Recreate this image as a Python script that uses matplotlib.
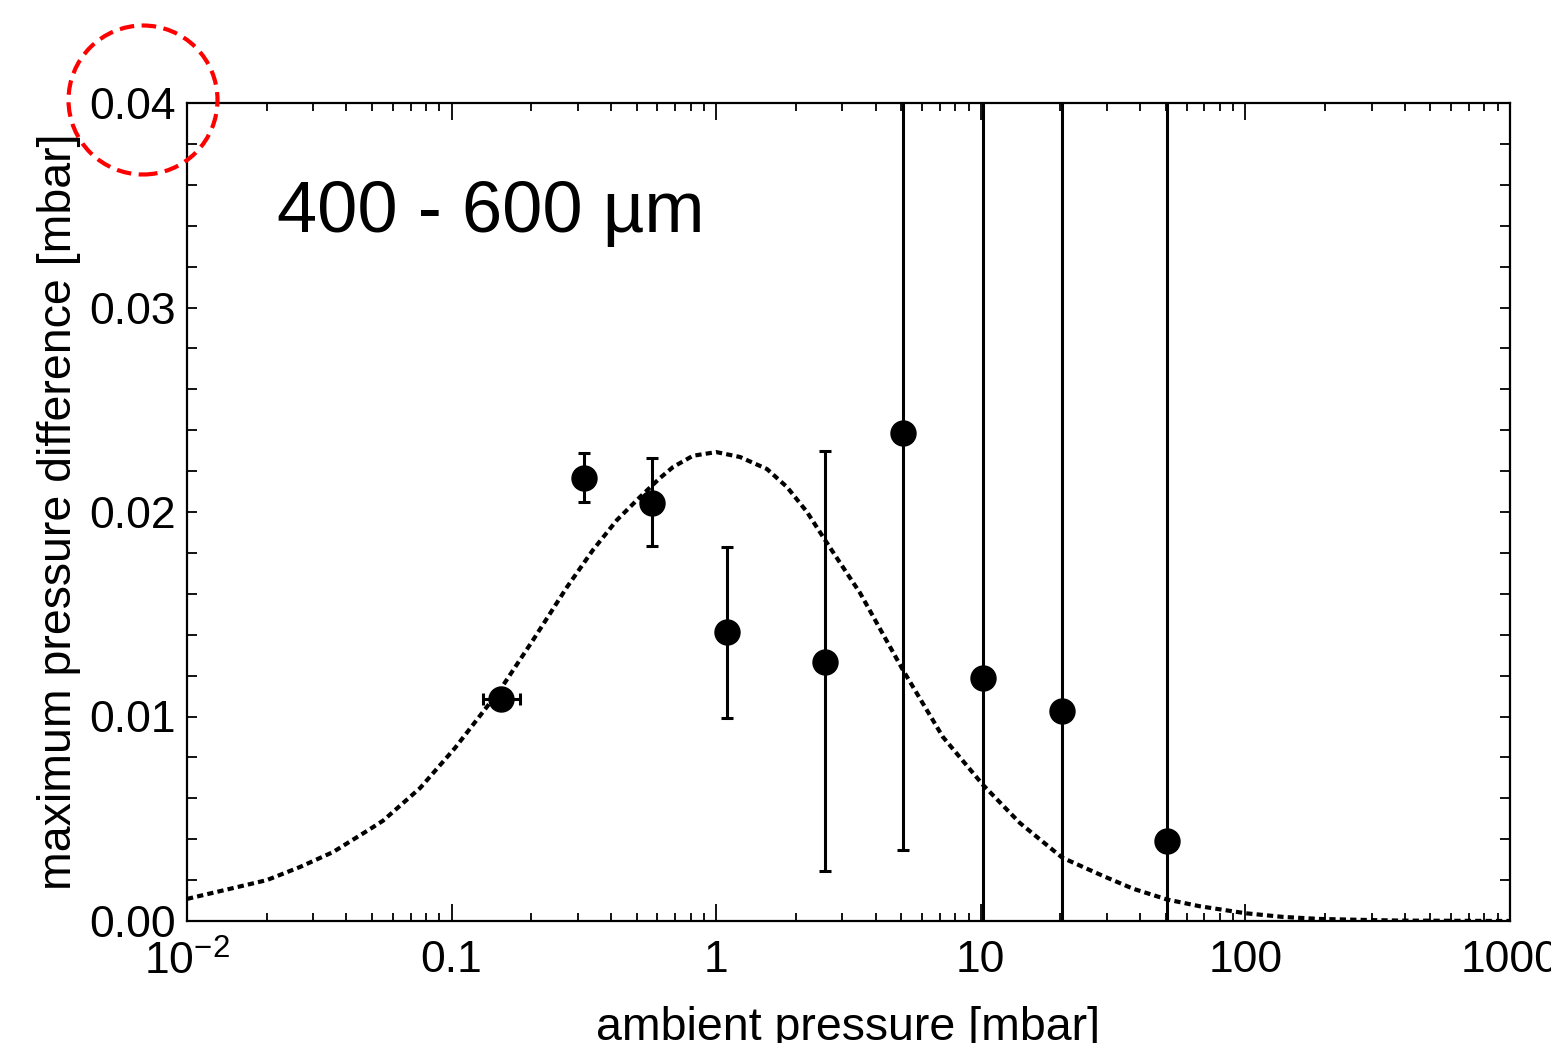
import numpy as np
import matplotlib.pyplot as plt
from matplotlib.patches import Ellipse

plt.rcParams['font.family'] = ['Liberation Sans', 'DejaVu Sans']
plt.rcParams['mathtext.fontset'] = 'custom'
plt.rcParams['mathtext.rm'] = 'Liberation Sans'
plt.rcParams['mathtext.it'] = 'Liberation Sans:italic'

# measured points
pressure = [0.154, 0.3165, 0.572, 1.098, 2.578, 5.08, 10.19, 20.27, 50.5]
dp_max = [0.01086, 0.02166, 0.02044, 0.01413, 0.01267, 0.02386, 0.01188, 0.01027, 0.00391]
err_low = [0.0004, 0.00117, 0.0021, 0.0042, 0.01023, 0.02039, 0.05, 0.05, 0.05]
err_high = [0.0004, 0.00123, 0.0022, 0.00416, 0.01031, 0.04, 0.05, 0.05, 0.05]
xerr_low = [0.023, 0, 0, 0, 0, 0, 0, 0, 0]
xerr_high = [0.027, 0, 0, 0, 0, 0, 0, 0, 0]

# model curve
curve_x = [0.01, 0.01493, 0.02004, 0.02672, 0.03563, 0.04786, 0.055, 0.076, 0.103,
           0.1524, 0.2032, 0.273, 0.342, 0.4217, 0.515, 0.613, 0.687, 0.817, 1.0,
           1.23, 1.556, 1.852, 2.204, 2.578, 3.01, 3.497, 5.08, 7.19, 10.2, 14.06,
           20.3, 29.0, 37.6, 50.6, 67.3, 100, 138.6, 191, 288, 384, 1000]
curve_y = [0.00108, 0.00161, 0.0020, 0.00264, 0.00337, 0.0044, 0.0049, 0.0065, 0.00846,
           0.0113, 0.01374, 0.01633, 0.01814, 0.01961, 0.02073, 0.02166, 0.0222, 0.02275, 0.02293,
           0.02269, 0.0221, 0.02122, 0.0200, 0.01863, 0.01731, 0.01604, 0.01227, 0.009, 0.00665, 0.00479,
           0.0031, 0.0022, 0.00158, 0.00105, 0.00072, 0.00038, 0.0002, 0.0001, 0.00005, 0.00002, 0.0]

xticks = [0.01, 0.1, 1, 10, 100, 1000]
xticklabels = ['$10^{-2}$', '0.1', '1', '10', '100', '1000']
yticks = [0.0, 0.01, 0.02, 0.03, 0.04]
yticklabels = ['0.00', '0.01', '0.02', '0.03', '0.04']

fig = plt.figure(figsize=(15.51, 10.43), dpi=100)
ax = fig.add_axes([187/1551, 122/1043, 1323/1551, 818/1043])

ax.plot(curve_x, curve_y, color='black', lw=3, dashes=(1.5, 1.0))
ax.errorbar(pressure, dp_max, yerr=[err_low, err_high], xerr=[xerr_low, xerr_high],
            fmt='o', color='black', ms=18, elinewidth=2.2, capsize=4, capthick=2.2)

ax.set_xscale('log')
ax.set_xlim(0.01, 1000)
ax.set_ylim(0, 0.04)
ax.set_xticks(xticks)
ax.set_xticklabels(xticklabels)
ax.set_yticks(yticks)
ax.set_yticklabels(yticklabels)
ax.set_yticks(np.arange(0, 0.0401, 0.002), minor=True)

ax.tick_params(which='both', direction='in', top=True, right=True,
               labelsize=32, width=1.3, color='black')
ax.tick_params(axis='x', which='major', length=12, pad=14)
ax.tick_params(axis='x', which='minor', length=6)
ax.tick_params(axis='y', which='both', length=7, pad=8)
for s in ax.spines.values():
    s.set_linewidth(1.6)

ax.set_xlabel('ambient pressure [mbar]', fontsize=33.5, labelpad=16)
ax.set_ylabel('maximum pressure difference [mbar]', fontsize=33.5, labelpad=6)

ax.text(0.068, 0.842, '400 - 600 µm', transform=ax.transAxes, fontsize=52)

# red dashed circle around the top y label
circ = Ellipse((143/1551, 1 - 100/1043), 149/1551, 149/1043, transform=fig.transFigure,
               fill=False, edgecolor='red', lw=3, linestyle=(0, (3.5, 1.8)), clip_on=False)
fig.add_artist(circ)

fig.savefig('out.png', dpi=100)
